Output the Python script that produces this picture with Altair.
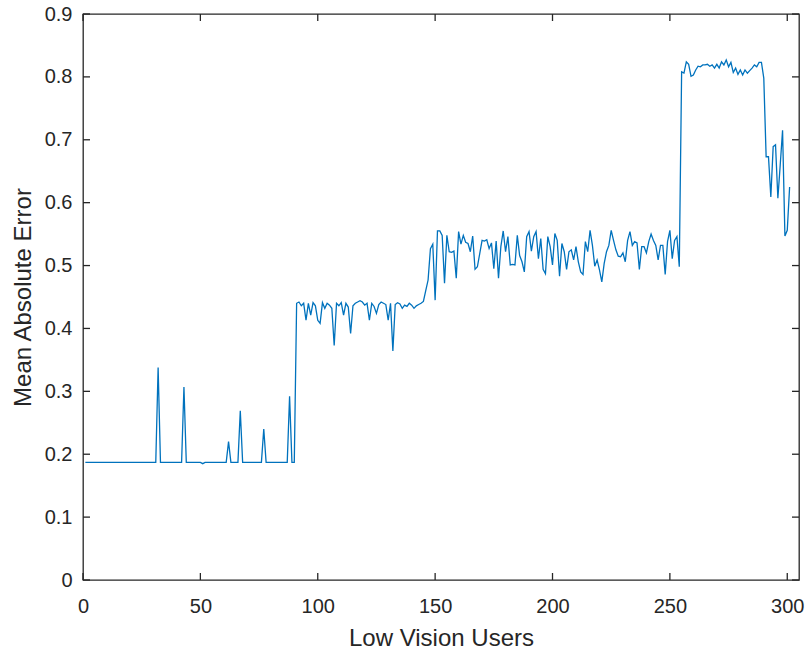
import altair as alt
import pandas as pd

# Mean absolute error per low-vision user (users 1..301)
seg_baseline = [
    0.187, 0.187, 0.187, 0.187, 0.187, 0.187, 0.187, 0.187, 0.187, 0.187,
    0.187, 0.187, 0.187, 0.187, 0.187, 0.187, 0.187, 0.187, 0.187, 0.187,
    0.187, 0.187, 0.187, 0.187, 0.187, 0.187, 0.187, 0.187, 0.187, 0.187,
    0.187, 0.338, 0.187, 0.187, 0.187, 0.187, 0.187, 0.187, 0.187, 0.187,
    0.187, 0.187, 0.307, 0.187, 0.187, 0.187, 0.187, 0.187, 0.187, 0.187,
    0.185, 0.187, 0.187, 0.187, 0.187, 0.187, 0.187, 0.187, 0.187, 0.187,
    0.187, 0.220, 0.187, 0.187, 0.187, 0.187, 0.269, 0.187, 0.187, 0.187,
    0.187, 0.187, 0.187, 0.187, 0.187, 0.187, 0.240, 0.187, 0.187, 0.187,
    0.187, 0.187, 0.187, 0.187, 0.187, 0.187, 0.187, 0.292, 0.187, 0.187,
]
seg_low = [
    0.440, 0.442, 0.436, 0.440, 0.413, 0.440, 0.421, 0.441, 0.436, 0.413,
    0.408, 0.441, 0.432, 0.440, 0.437, 0.432, 0.373, 0.440, 0.436, 0.441,
    0.421, 0.440, 0.434, 0.392, 0.436, 0.440, 0.442, 0.444, 0.442, 0.437,
    0.440, 0.413, 0.440, 0.435, 0.424, 0.438, 0.442, 0.440, 0.438, 0.413,
    0.440, 0.364, 0.438, 0.441, 0.439, 0.432, 0.437, 0.435, 0.440, 0.437,
    0.432, 0.436, 0.438, 0.440, 0.443,
]
seg_mid = [
    0.460, 0.477, 0.527, 0.534, 0.445, 0.555, 0.555, 0.548, 0.472, 0.548,
    0.522, 0.521, 0.523, 0.480, 0.554, 0.534, 0.548, 0.537, 0.535, 0.522,
    0.547, 0.494, 0.498, 0.519, 0.540, 0.539, 0.541, 0.527, 0.536, 0.495,
    0.539, 0.480, 0.530, 0.555, 0.522, 0.546, 0.501, 0.502, 0.501, 0.548,
    0.516, 0.506, 0.490, 0.546, 0.554, 0.523, 0.546, 0.554, 0.511, 0.543,
    0.494, 0.487, 0.546, 0.530, 0.501, 0.551, 0.540, 0.483, 0.535, 0.522,
    0.494, 0.522, 0.525, 0.509, 0.530, 0.506, 0.490, 0.486, 0.538, 0.522,
    0.556, 0.532, 0.499, 0.509, 0.493, 0.474, 0.503, 0.522, 0.532, 0.556,
    0.540, 0.525, 0.515, 0.514, 0.520, 0.506, 0.540, 0.554, 0.532, 0.538,
    0.536, 0.494, 0.530, 0.530, 0.520, 0.538, 0.550, 0.540, 0.532, 0.509,
    0.532, 0.532, 0.486, 0.538, 0.556, 0.511, 0.540, 0.546, 0.498,
]
seg_high = [
    0.808, 0.806, 0.824, 0.820, 0.801, 0.803, 0.811, 0.817, 0.816, 0.819,
    0.819, 0.820, 0.817, 0.819, 0.814, 0.820, 0.814, 0.824, 0.819, 0.827,
    0.816, 0.823, 0.807, 0.814, 0.804, 0.811, 0.803, 0.811, 0.806, 0.810,
    0.814, 0.819, 0.816, 0.823, 0.823, 0.798,
]
seg_tail = [0.673, 0.673, 0.609, 0.689, 0.692, 0.607, 0.660, 0.715, 0.547, 0.556, 0.625]

mae = seg_baseline + seg_low + seg_mid + seg_high + seg_tail
users = list(range(1, len(mae) + 1))

x_ticks = [0, 50, 100, 150, 200, 250, 300]
y_ticks = [0, 0.1, 0.2, 0.3, 0.4, 0.5, 0.6, 0.7, 0.8, 0.9]

W, H = 716, 566
TICK = 7
INK = "#262626"
FONT = "Liberation Sans"

x_scale = alt.Scale(domain=[0, 305], nice=False, zero=False)
y_scale = alt.Scale(domain=[0, 0.9], nice=False)

x_axis = alt.Axis(
    values=x_ticks, ticks=False, domain=False, grid=False, labelFlush=False,
    labelFont=FONT, labelFontSize=20, labelColor=INK, labelPadding=16,
    title="Low Vision Users", titleFont=FONT, titleFontSize=24,
    titleFontWeight="normal", titleColor=INK,
    titleBaseline="alphabetic", titleY=65,
)
y_axis = alt.Axis(
    values=y_ticks, ticks=False, domain=False, grid=False, labelFlush=False,
    labelFont=FONT, labelFontSize=20, labelColor=INK, labelPadding=11,
    labelExpr="datum.value == 0 ? '0' : format(datum.value, '.1f')",
    title="Mean Absolute Error", titleFont=FONT, titleFontSize=24,
    titleFontWeight="normal", titleColor=INK,
    titleAngle=270, titleBaseline="alphabetic", titleX=-53,
)

df = pd.DataFrame({"user": users, "mae": mae})
xt = pd.DataFrame({"user": x_ticks})
yt = pd.DataFrame({"mae": y_ticks})

X = alt.X("user:Q", scale=x_scale, axis=x_axis)
Y = alt.Y("mae:Q", scale=y_scale, axis=y_axis)

line = alt.Chart(df).mark_line(color="#0072BD", strokeWidth=1.3).encode(x=X, y=Y)

# inward tick marks on all four sides of the box
tick_style = dict(color=INK, strokeWidth=1.3)
x_bottom = alt.Chart(xt).mark_rule(**tick_style).encode(
    x=X, y=alt.value(H), y2=alt.value(H - TICK)
)
x_top = alt.Chart(xt).mark_rule(**tick_style).encode(
    x=X, y=alt.value(0), y2=alt.value(TICK)
)
y_left = alt.Chart(yt).mark_rule(**tick_style).encode(
    y=Y, x=alt.value(0), x2=alt.value(TICK)
)
y_right = alt.Chart(yt).mark_rule(**tick_style).encode(
    y=Y, x=alt.value(W), x2=alt.value(W - TICK)
)

chart = alt.layer(line, x_bottom, x_top, y_left, y_right).properties(
    width=W,
    height=H,
    padding={"left": 83, "top": 14, "right": 8, "bottom": 72},
    autosize=alt.AutoSizeParams(type="none"),
    background="white",
).configure_view(stroke=INK, strokeWidth=1.3)

chart.save("out.html", embed_options={"renderer": "svg", "actions": False})
